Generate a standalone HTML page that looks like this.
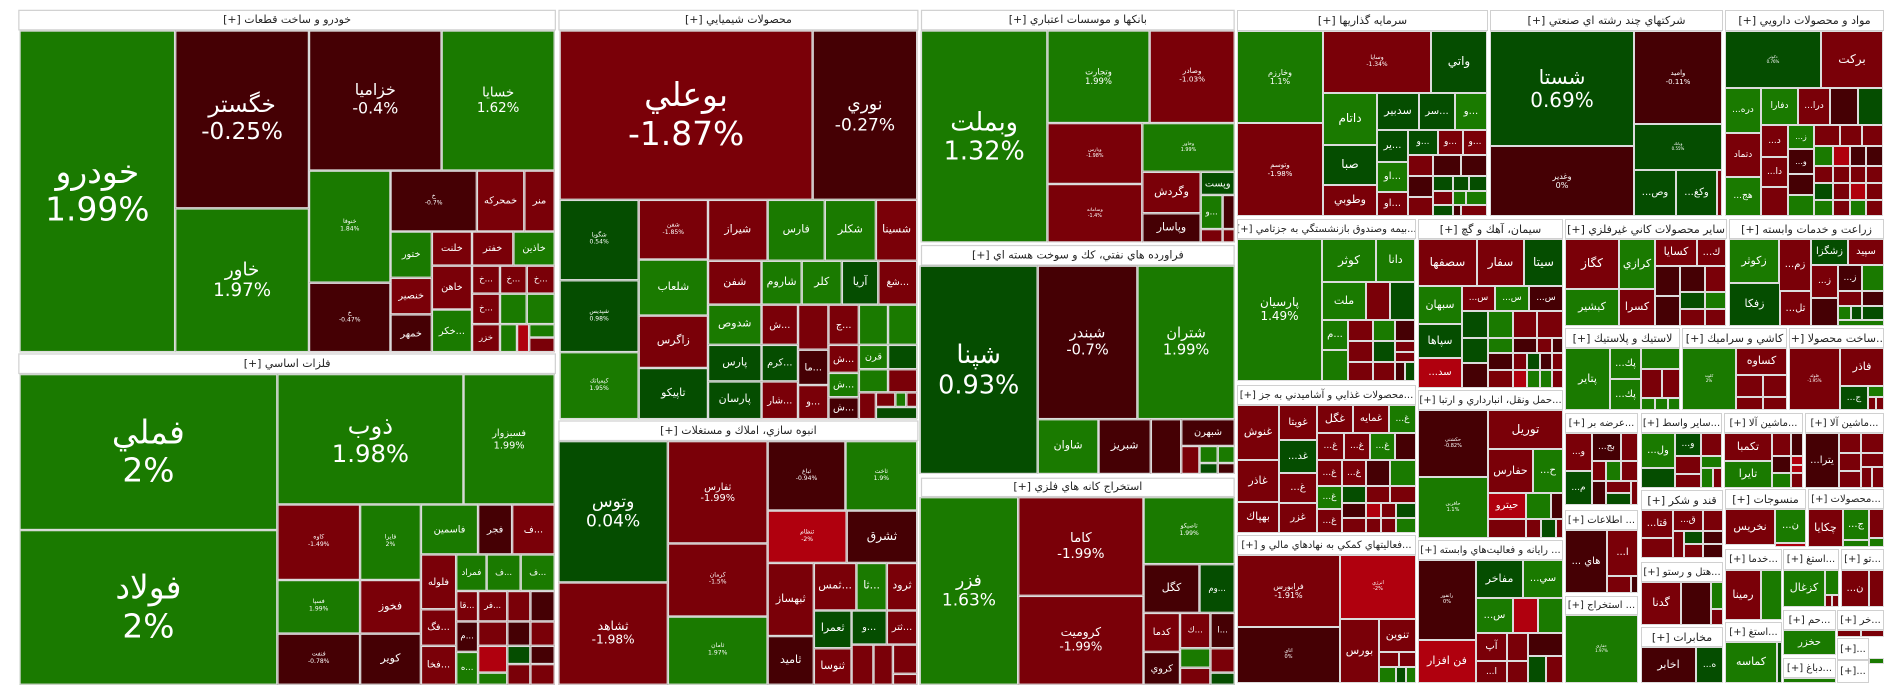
<!DOCTYPE html>
<html><head><meta charset="utf-8">
<style>
html,body{margin:0;padding:0;background:#fff;width:1904px;height:698px;overflow:hidden;position:relative}
.c{position:absolute;box-sizing:border-box;border:1px solid #dcdcdc;color:#fff;display:flex;align-items:center;justify-content:center;text-align:center;overflow:hidden;white-space:nowrap;line-height:1.15;font-family:"DejaVu Sans",sans-serif;font-size:10px}
.h{position:absolute;box-sizing:border-box;background:#fff;border:1px solid #d0d0d0;color:#222;font-family:"DejaVu Sans",sans-serif;font-size:11px;text-align:center;white-space:nowrap;overflow:hidden;display:flex;align-items:center;justify-content:center;direction:rtl}
#L .h{font-size:9px}
.G{background:#1a7a00}.D{background:#054d00}.R{background:#7a0008}.X{background:#450004}.B{background:#b0000e}
#L{position:absolute;left:0;top:0;width:1016px;height:573px;transform:scale(1.2165,1.2185);transform-origin:0 0}
</style></head><body>
<div id="L">
<div class="h" style="left:15px;top:8px;width:442px;height:17px">خودرو و ساخت قطعات [+]</div>
<div class="c G" style="left:16px;top:25px;width:128px;height:264px;font-size:27px">خودرو<br>1.99%</div>
<div class="c X" style="left:144px;top:25px;width:110px;height:146px;font-size:19px">خگستر<br>-0.25%</div>
<div class="c G" style="left:144px;top:171px;width:110px;height:118px;font-size:15px">خاور<br>1.97%</div>
<div class="c X" style="left:254px;top:25px;width:109px;height:115px;font-size:13px">خزاميا<br>-0.4%</div>
<div class="c G" style="left:363px;top:25px;width:93px;height:115px;font-size:11px">خسايا<br>1.62%</div>
<div class="c G" style="left:254px;top:140px;width:67px;height:92px;font-size:5px">خنوفا<br>1.84%</div>
<div class="c X" style="left:254px;top:232px;width:67px;height:57px;font-size:5px">خ<br>-0.47%</div>
<div class="c X" style="left:321px;top:140px;width:71px;height:50px;font-size:5px">خ<br>-0.7%</div>
<div class="c R" style="left:392px;top:140px;width:39px;height:50px;font-size:8px">خمحرکه</div>
<div class="c R" style="left:431px;top:140px;width:25px;height:50px;font-size:8px">منر</div>
<div class="c G" style="left:321px;top:190px;width:34px;height:38px;font-size:8px">ختور</div>
<div class="c R" style="left:355px;top:190px;width:33px;height:28px;font-size:8px">خلنت</div>
<div class="c R" style="left:388px;top:190px;width:34px;height:28px;font-size:8px">خفتر</div>
<div class="c G" style="left:422px;top:190px;width:34px;height:28px;font-size:8px">خاذين</div>
<div class="c R" style="left:321px;top:228px;width:34px;height:30px;font-size:8px">خنصير</div>
<div class="c X" style="left:321px;top:258px;width:34px;height:31px;font-size:8px">خمهر</div>
<div class="c R" style="left:355px;top:218px;width:33px;height:36px;font-size:8px">خاهن</div>
<div class="c G" style="left:355px;top:254px;width:33px;height:35px;font-size:8px">خكر...</div>
<div class="c R" style="left:388px;top:218px;width:23px;height:23px;font-size:7px">خ...</div>
<div class="c R" style="left:411px;top:218px;width:22px;height:23px;font-size:7px">خ...</div>
<div class="c R" style="left:433px;top:218px;width:23px;height:23px;font-size:7px">خ...</div>
<div class="c R" style="left:388px;top:241px;width:23px;height:25px;font-size:7px">خ...</div>
<div class="c G" style="left:411px;top:241px;width:22px;height:25px"></div>
<div class="c G" style="left:433px;top:241px;width:23px;height:25px"></div>
<div class="c R" style="left:388px;top:266px;width:23px;height:23px;font-size:7px">خزر</div>
<div class="c G" style="left:411px;top:266px;width:14px;height:23px"></div>
<div class="c B" style="left:425px;top:266px;width:10px;height:23px"></div>
<div class="c G" style="left:435px;top:266px;width:21px;height:11px"></div>
<div class="c R" style="left:435px;top:277px;width:21px;height:12px"></div>

<div class="h" style="left:15px;top:290px;width:442px;height:17px">فلزات اساسي [+]</div>
<div class="c G" style="left:16px;top:307px;width:212px;height:128px;font-size:27px">فملي<br>2%</div>
<div class="c G" style="left:16px;top:435px;width:212px;height:127px;font-size:27px">فولاد<br>2%</div>
<div class="c G" style="left:228px;top:307px;width:153px;height:107px;font-size:20px">ذوب<br>1.98%</div>
<div class="c G" style="left:381px;top:307px;width:75px;height:107px;font-size:8px">فسبزوار<br>1.99%</div>
<div class="c R" style="left:228px;top:414px;width:68px;height:62px;font-size:5px">كاوه<br>-1.49%</div>
<div class="c G" style="left:228px;top:476px;width:68px;height:44px;font-size:5px">فسپا<br>1.99%</div>
<div class="c X" style="left:228px;top:520px;width:68px;height:42px;font-size:5px">فنفت<br>-0.78%</div>
<div class="c G" style="left:296px;top:414px;width:50px;height:62px;font-size:5px">فايرا<br>2%</div>
<div class="c R" style="left:296px;top:476px;width:50px;height:44px;font-size:9px">فخوز</div>
<div class="c X" style="left:296px;top:520px;width:50px;height:42px;font-size:9px">كوير</div>
<div class="c G" style="left:346px;top:414px;width:47px;height:41px;font-size:8px">فاسمين</div>
<div class="c X" style="left:393px;top:414px;width:28px;height:41px;font-size:8px">فجر</div>
<div class="c R" style="left:421px;top:414px;width:35px;height:41px;font-size:8px">ف...</div>
<div class="c R" style="left:346px;top:455px;width:29px;height:45px;font-size:8px">فلوله</div>
<div class="c R" style="left:346px;top:500px;width:29px;height:30px;font-size:8px">فگ...</div>
<div class="c R" style="left:346px;top:530px;width:29px;height:32px;font-size:8px">فخا...</div>
<div class="c G" style="left:375px;top:455px;width:25px;height:30px;font-size:7px">فمراد</div>
<div class="c G" style="left:400px;top:455px;width:28px;height:30px;font-size:7px">ف...</div>
<div class="c G" style="left:428px;top:455px;width:28px;height:30px;font-size:7px">ف...</div>
<div class="c R" style="left:375px;top:485px;width:18px;height:25px;font-size:7px">قا...</div>
<div class="c R" style="left:393px;top:485px;width:24px;height:25px;font-size:7px">فر...</div>
<div class="c R" style="left:417px;top:485px;width:19px;height:25px"></div>
<div class="c X" style="left:436px;top:485px;width:20px;height:25px"></div>
<div class="c X" style="left:375px;top:510px;width:18px;height:25px;font-size:7px">م...</div>
<div class="c G" style="left:375px;top:535px;width:18px;height:27px;font-size:7px">ه...</div>
<div class="c R" style="left:393px;top:510px;width:24px;height:20px"></div>
<div class="c B" style="left:393px;top:530px;width:24px;height:22px"></div>
<div class="c G" style="left:393px;top:552px;width:24px;height:10px"></div>
<div class="c X" style="left:417px;top:510px;width:19px;height:20px"></div>
<div class="c D" style="left:417px;top:530px;width:19px;height:15px"></div>
<div class="c R" style="left:436px;top:510px;width:20px;height:20px"></div>
<div class="c X" style="left:436px;top:530px;width:20px;height:15px"></div>
<div class="c R" style="left:417px;top:545px;width:19px;height:17px"></div>
<div class="c R" style="left:436px;top:545px;width:20px;height:17px"></div>

<div class="h" style="left:459px;top:8px;width:296px;height:17px">محصولات شيميايي [+]</div>
<div class="c R" style="left:460px;top:25px;width:208px;height:139px;font-size:27px">بوعلي<br>-1.87%</div>
<div class="c X" style="left:668px;top:25px;width:86px;height:139px;font-size:14px">نوري<br>-0.27%</div>
<div class="c D" style="left:460px;top:164px;width:65px;height:66px;font-size:5px">شگويا<br>0.54%</div>
<div class="c D" style="left:460px;top:230px;width:65px;height:59px;font-size:5px">شپديس<br>0.98%</div>
<div class="c G" style="left:460px;top:289px;width:65px;height:55px;font-size:5px">كيمياتك<br>1.95%</div>
<div class="c R" style="left:525px;top:164px;width:57px;height:49px;font-size:5px">شفن<br>-1.85%</div>
<div class="c G" style="left:525px;top:213px;width:57px;height:46px;font-size:9px">شلعاب</div>
<div class="c R" style="left:525px;top:259px;width:57px;height:43px;font-size:9px">زاگرس</div>
<div class="c D" style="left:525px;top:302px;width:57px;height:42px;font-size:9px">تاپيکو</div>
<div class="c R" style="left:582px;top:164px;width:49px;height:50px;font-size:9px">شيراز</div>
<div class="c G" style="left:631px;top:164px;width:47px;height:50px;font-size:9px">فارس</div>
<div class="c G" style="left:678px;top:164px;width:42px;height:50px;font-size:9px">شكلر</div>
<div class="c R" style="left:720px;top:164px;width:34px;height:50px;font-size:9px">شسينا</div>
<div class="c R" style="left:582px;top:214px;width:44px;height:36px;font-size:9px">شفن</div>
<div class="c G" style="left:626px;top:214px;width:33px;height:36px;font-size:9px">شاروم</div>
<div class="c G" style="left:659px;top:214px;width:33px;height:36px;font-size:9px">كلر</div>
<div class="c D" style="left:692px;top:214px;width:30px;height:36px;font-size:9px">آريا</div>
<div class="c R" style="left:722px;top:214px;width:32px;height:36px;font-size:8px">شغ...</div>
<div class="c G" style="left:582px;top:250px;width:44px;height:33px;font-size:9px">شدوص</div>
<div class="c D" style="left:582px;top:283px;width:44px;height:30px;font-size:9px">پارس</div>
<div class="c D" style="left:582px;top:313px;width:44px;height:31px;font-size:9px">پارسان</div>
<div class="c R" style="left:626px;top:250px;width:30px;height:33px;font-size:8px">ش...</div>
<div class="c D" style="left:626px;top:283px;width:30px;height:30px;font-size:8px">كرم...</div>
<div class="c R" style="left:626px;top:313px;width:30px;height:31px;font-size:8px">شار...</div>
<div class="c R" style="left:656px;top:250px;width:25px;height:37px"></div>
<div class="c X" style="left:656px;top:287px;width:25px;height:29px;font-size:8px">ما...</div>
<div class="c R" style="left:656px;top:316px;width:25px;height:28px;font-size:8px">و...</div>
<div class="c R" style="left:681px;top:250px;width:25px;height:33px;font-size:8px">ج...</div>
<div class="c R" style="left:681px;top:283px;width:25px;height:23px;font-size:8px">ش...</div>
<div class="c G" style="left:681px;top:306px;width:25px;height:20px;font-size:8px">ش...</div>
<div class="c X" style="left:681px;top:326px;width:25px;height:18px;font-size:8px">ش...</div>
<div class="c G" style="left:706px;top:250px;width:24px;height:33px"></div>
<div class="c G" style="left:730px;top:250px;width:24px;height:33px"></div>
<div class="c G" style="left:706px;top:283px;width:24px;height:20px;font-size:8px">قرن</div>
<div class="c D" style="left:730px;top:283px;width:24px;height:20px"></div>
<div class="c G" style="left:706px;top:303px;width:24px;height:19px"></div>
<div class="c R" style="left:730px;top:303px;width:24px;height:19px"></div>
<div class="c R" style="left:706px;top:322px;width:14px;height:22px"></div>
<div class="c R" style="left:720px;top:322px;width:16px;height:12px"></div>
<div class="c G" style="left:736px;top:322px;width:9px;height:12px"></div>
<div class="c R" style="left:745px;top:322px;width:9px;height:12px"></div>
<div class="c D" style="left:720px;top:334px;width:34px;height:10px"></div>

<div class="h" style="left:459px;top:345px;width:296px;height:17px">انبوه سازي، املاك و مستغلات [+]</div>
<div class="c D" style="left:459px;top:362px;width:90px;height:116px;font-size:14px">وتوس<br>0.04%</div>
<div class="c R" style="left:459px;top:478px;width:90px;height:84px;font-size:10px">ثشاهد<br>-1.98%</div>
<div class="c R" style="left:549px;top:362px;width:82px;height:84px;font-size:8px">ثفارس<br>-1.99%</div>
<div class="c R" style="left:549px;top:446px;width:82px;height:60px;font-size:5px">كرمان<br>-1.5%</div>
<div class="c G" style="left:549px;top:506px;width:82px;height:56px;font-size:5px">ثامان<br>1.97%</div>
<div class="c X" style="left:631px;top:362px;width:64px;height:57px;font-size:5px">ثباغ<br>-0.94%</div>
<div class="c G" style="left:695px;top:362px;width:59px;height:57px;font-size:5px">ثاخت<br>1.9%</div>
<div class="c B" style="left:631px;top:419px;width:65px;height:43px;font-size:5px">ثنظام<br>-2%</div>
<div class="c X" style="left:696px;top:419px;width:58px;height:43px;font-size:10px">ثشرق</div>
<div class="c R" style="left:631px;top:462px;width:38px;height:60px;font-size:9px">ثبهساز</div>
<div class="c X" style="left:631px;top:522px;width:38px;height:40px;font-size:9px">ثاميد</div>
<div class="c R" style="left:669px;top:462px;width:35px;height:39px;font-size:9px">ثمس...</div>
<div class="c G" style="left:704px;top:462px;width:25px;height:39px;font-size:9px">ثا...</div>
<div class="c R" style="left:729px;top:462px;width:25px;height:39px;font-size:9px">ثرود</div>
<div class="c D" style="left:669px;top:501px;width:31px;height:31px;font-size:9px">ثعمرا</div>
<div class="c D" style="left:700px;top:501px;width:29px;height:28px;font-size:8px">و...</div>
<div class="c R" style="left:729px;top:501px;width:25px;height:28px;font-size:8px">ثتر...</div>
<div class="c R" style="left:669px;top:532px;width:31px;height:30px;font-size:9px">ثنوسا</div>
<div class="c R" style="left:700px;top:529px;width:18px;height:33px"></div>
<div class="c R" style="left:718px;top:529px;width:16px;height:33px"></div>
<div class="c R" style="left:734px;top:529px;width:20px;height:24px"></div>
<div class="c R" style="left:734px;top:553px;width:20px;height:9px"></div>

<div class="h" style="left:757px;top:8px;width:258px;height:17px">بانكها و موسسات اعتباري [+]</div>
<div class="c G" style="left:757px;top:25px;width:104px;height:174px;font-size:21px">وبملت<br>1.32%</div>
<div class="c G" style="left:861px;top:25px;width:84px;height:76px;font-size:7px">وتجارت<br>1.99%</div>
<div class="c R" style="left:945px;top:25px;width:70px;height:76px;font-size:6px">وصادر<br>-1.03%</div>
<div class="c R" style="left:861px;top:101px;width:78px;height:50px;font-size:4px">وپارس<br>-1.98%</div>
<div class="c R" style="left:861px;top:151px;width:78px;height:48px;font-size:4px">وسامانه<br>-1.4%</div>
<div class="c G" style="left:939px;top:101px;width:76px;height:40px;font-size:4px">وخاور<br>1.99%</div>
<div class="c R" style="left:939px;top:141px;width:48px;height:34px;font-size:9px">وگردش</div>
<div class="c X" style="left:939px;top:175px;width:48px;height:24px;font-size:9px">وپاسار</div>
<div class="c D" style="left:987px;top:141px;width:28px;height:19px;font-size:8px">وپست</div>
<div class="c G" style="left:987px;top:160px;width:18px;height:28px;font-size:7px">و...</div>
<div class="c X" style="left:1005px;top:160px;width:10px;height:28px"></div>
<div class="c R" style="left:987px;top:188px;width:18px;height:11px"></div>
<div class="c R" style="left:1005px;top:188px;width:10px;height:11px"></div>

<div class="h" style="left:757px;top:201px;width:258px;height:17px">فراورده هاي نفتي، كك و سوخت هسته اي [+]</div>
<div class="c D" style="left:756px;top:218px;width:97px;height:171px;font-size:21px">شپنا<br>0.93%</div>
<div class="c X" style="left:853px;top:218px;width:82px;height:126px;font-size:12px">شبندر<br>-0.7%</div>
<div class="c G" style="left:935px;top:218px;width:80px;height:126px;font-size:12px">شتران<br>1.99%</div>
<div class="c G" style="left:853px;top:344px;width:50px;height:45px;font-size:9px">شاوان</div>
<div class="c X" style="left:903px;top:344px;width:43px;height:45px;font-size:9px">شبريز</div>
<div class="c X" style="left:946px;top:344px;width:25px;height:45px"></div>
<div class="c X" style="left:971px;top:344px;width:44px;height:22px;font-size:8px">شبهرن</div>
<div class="c R" style="left:971px;top:366px;width:15px;height:23px"></div>
<div class="c G" style="left:986px;top:366px;width:15px;height:14px"></div>
<div class="c G" style="left:1001px;top:366px;width:14px;height:14px"></div>
<div class="c D" style="left:986px;top:380px;width:15px;height:9px"></div>
<div class="c X" style="left:1001px;top:380px;width:14px;height:9px"></div>

<div class="h" style="left:757px;top:392px;width:258px;height:16px">استخراج كانه هاي فلزي [+]</div>
<div class="c G" style="left:756px;top:408px;width:81px;height:154px;font-size:14px">فزر<br>1.63%</div>
<div class="c R" style="left:837px;top:408px;width:103px;height:81px;font-size:11px">كاما<br>-1.99%</div>
<div class="c R" style="left:837px;top:489px;width:103px;height:73px;font-size:10px">كروميت<br>-1.99%</div>
<div class="c G" style="left:940px;top:408px;width:75px;height:55px;font-size:5px">تاصيكو<br>1.99%</div>
<div class="c X" style="left:940px;top:463px;width:46px;height:40px;font-size:9px">كگل</div>
<div class="c D" style="left:986px;top:463px;width:29px;height:40px;font-size:7px">وم...</div>
<div class="c R" style="left:940px;top:503px;width:30px;height:32px;font-size:8px">كدما</div>
<div class="c X" style="left:940px;top:535px;width:30px;height:27px;font-size:8px">كروي</div>
<div class="c R" style="left:970px;top:503px;width:25px;height:29px;font-size:7px">ك...</div>
<div class="c X" style="left:995px;top:503px;width:20px;height:29px;font-size:7px">ا...</div>
<div class="c G" style="left:970px;top:532px;width:25px;height:16px"></div>
<div class="c R" style="left:970px;top:548px;width:25px;height:14px"></div>
<div class="c R" style="left:995px;top:532px;width:20px;height:20px"></div>
<div class="c D" style="left:995px;top:552px;width:20px;height:10px"></div>
</div>

<!-- right layer real coords -->
<div class="h" style="left:1237px;top:10px;width:251px;height:21px">سرمايه گذاريها [+]</div>
<div class="c G" style="left:1237px;top:31px;width:86px;height:92px;font-size:8px">وخارزم<br>1.1%</div>
<div class="c R" style="left:1237px;top:123px;width:86px;height:93px;font-size:7px">وتوسم<br>-1.98%</div>
<div class="c R" style="left:1323px;top:31px;width:108px;height:62px;font-size:6px">وسايا<br>-1.34%</div>
<div class="c D" style="left:1431px;top:31px;width:56px;height:62px;font-size:12px">واتي</div>
<div class="c G" style="left:1323px;top:93px;width:54px;height:52px;font-size:12px">داتام</div>
<div class="c D" style="left:1323px;top:145px;width:54px;height:40px;font-size:12px">صبا</div>
<div class="c R" style="left:1323px;top:185px;width:54px;height:31px;font-size:11px">وطوبي</div>
<div class="c D" style="left:1377px;top:93px;width:42px;height:37px;font-size:11px">سدبير</div>
<div class="c D" style="left:1419px;top:93px;width:36px;height:37px;font-size:10px">سر...</div>
<div class="c G" style="left:1455px;top:93px;width:32px;height:37px;font-size:10px">و...</div>
<div class="c D" style="left:1377px;top:130px;width:31px;height:32px;font-size:10px">ير...</div>
<div class="c G" style="left:1377px;top:162px;width:31px;height:30px;font-size:10px">او...</div>
<div class="c R" style="left:1377px;top:192px;width:31px;height:24px;font-size:10px">او...</div>
<div class="c D" style="left:1408px;top:130px;width:30px;height:25px;font-size:9px">و...</div>
<div class="c R" style="left:1438px;top:130px;width:25px;height:25px;font-size:9px">و...</div>
<div class="c R" style="left:1463px;top:130px;width:24px;height:25px;font-size:9px">و...</div>
<div class="c R" style="left:1408px;top:155px;width:25px;height:21px"></div>
<div class="c X" style="left:1433px;top:155px;width:28px;height:21px"></div>
<div class="c X" style="left:1461px;top:155px;width:26px;height:21px"></div>
<div class="c X" style="left:1408px;top:176px;width:25px;height:21px"></div>
<div class="c D" style="left:1433px;top:176px;width:20px;height:15px"></div>
<div class="c D" style="left:1453px;top:176px;width:16px;height:15px"></div>
<div class="c D" style="left:1469px;top:176px;width:18px;height:15px"></div>
<div class="c R" style="left:1408px;top:197px;width:25px;height:19px"></div>
<div class="c R" style="left:1433px;top:191px;width:20px;height:14px"></div>
<div class="c G" style="left:1453px;top:191px;width:13px;height:14px"></div>
<div class="c G" style="left:1466px;top:191px;width:21px;height:14px"></div>
<div class="c D" style="left:1433px;top:205px;width:20px;height:11px"></div>
<div class="c X" style="left:1453px;top:205px;width:8px;height:11px"></div>
<div class="c R" style="left:1461px;top:205px;width:26px;height:11px"></div>

<div class="h" style="left:1490px;top:10px;width:233px;height:21px">شرکتهاي چند رشته اي صنعتي [+]</div>
<div class="c D" style="left:1490px;top:31px;width:144px;height:115px;font-size:20px">شستا<br>0.69%</div>
<div class="c X" style="left:1490px;top:146px;width:144px;height:70px;font-size:8px">وغدير<br>0%</div>
<div class="c X" style="left:1634px;top:31px;width:88px;height:93px;font-size:7px">واميد<br>-0.11%</div>
<div class="c D" style="left:1634px;top:124px;width:88px;height:46px;font-size:4px">وبانك<br>0.55%</div>
<div class="c D" style="left:1634px;top:170px;width:42px;height:46px;font-size:10px">...وص</div>
<div class="c D" style="left:1676px;top:170px;width:41px;height:46px;font-size:10px">...وكغ</div>
<div class="c R" style="left:1717px;top:170px;width:5px;height:46px"></div>

<div class="h" style="left:1725px;top:10px;width:159px;height:21px">مواد و محصولات دارويي [+]</div>
<div class="c D" style="left:1725px;top:31px;width:96px;height:57px;font-size:4px">دکوثر<br>0.76%</div>
<div class="c R" style="left:1821px;top:31px;width:62px;height:57px;font-size:12px">بركت</div>
<div class="c G" style="left:1725px;top:88px;width:36px;height:45px;font-size:9px">...دره</div>
<div class="c G" style="left:1761px;top:88px;width:37px;height:37px;font-size:9px">دفارا</div>
<div class="c R" style="left:1798px;top:88px;width:32px;height:37px;font-size:9px">...درا</div>
<div class="c X" style="left:1830px;top:88px;width:28px;height:37px"></div>
<div class="c D" style="left:1858px;top:88px;width:25px;height:37px"></div>
<div class="c R" style="left:1725px;top:133px;width:36px;height:44px;font-size:9px">دتماد</div>
<div class="c G" style="left:1725px;top:177px;width:36px;height:39px;font-size:9px">...هج</div>
<div class="c R" style="left:1761px;top:125px;width:27px;height:32px;font-size:9px">...د</div>
<div class="c R" style="left:1761px;top:157px;width:27px;height:30px;font-size:9px">...دا</div>
<div class="c R" style="left:1761px;top:187px;width:27px;height:29px"></div>
<div class="c G" style="left:1788px;top:125px;width:26px;height:24px;font-size:8px">...ز</div>
<div class="c X" style="left:1788px;top:149px;width:26px;height:25px;font-size:8px">...و</div>
<div class="c X" style="left:1788px;top:174px;width:26px;height:21px"></div>
<div class="c G" style="left:1788px;top:195px;width:26px;height:21px"></div>
<div class="c R" style="left:1814px;top:125px;width:26px;height:21px"></div>
<div class="c R" style="left:1840px;top:125px;width:22px;height:21px"></div>
<div class="c R" style="left:1862px;top:125px;width:21px;height:21px"></div>
<div class="c G" style="left:1814px;top:146px;width:19px;height:20px"></div>
<div class="c B" style="left:1833px;top:146px;width:17px;height:20px"></div>
<div class="c X" style="left:1850px;top:146px;width:16px;height:20px"></div>
<div class="c X" style="left:1866px;top:146px;width:17px;height:20px"></div>
<div class="c R" style="left:1814px;top:166px;width:19px;height:17px"></div>
<div class="c R" style="left:1833px;top:166px;width:17px;height:17px"></div>
<div class="c R" style="left:1850px;top:166px;width:16px;height:17px"></div>
<div class="c R" style="left:1866px;top:166px;width:17px;height:17px"></div>
<div class="c D" style="left:1814px;top:183px;width:19px;height:17px"></div>
<div class="c R" style="left:1833px;top:183px;width:17px;height:17px"></div>
<div class="c B" style="left:1850px;top:183px;width:16px;height:17px"></div>
<div class="c R" style="left:1866px;top:183px;width:17px;height:17px"></div>
<div class="c G" style="left:1814px;top:200px;width:19px;height:16px"></div>
<div class="c R" style="left:1833px;top:200px;width:17px;height:16px"></div>
<div class="c G" style="left:1850px;top:200px;width:16px;height:16px"></div>
<div class="c R" style="left:1866px;top:200px;width:17px;height:16px"></div>

<div class="h" style="left:1237px;top:219px;width:179px;height:20px;font-size:10px">...بيمه وصندوق بازنشستگي به جزتامي [+]</div>
<div class="c G" style="left:1237px;top:239px;width:85px;height:142px;font-size:12px">پارسيان<br>1.49%</div>
<div class="c G" style="left:1322px;top:239px;width:54px;height:43px;font-size:12px">كوثر</div>
<div class="c G" style="left:1376px;top:239px;width:39px;height:43px;font-size:11px">دانا</div>
<div class="c G" style="left:1322px;top:282px;width:44px;height:38px;font-size:11px">ملت</div>
<div class="c R" style="left:1366px;top:282px;width:24px;height:38px"></div>
<div class="c D" style="left:1390px;top:282px;width:25px;height:38px"></div>
<div class="c G" style="left:1322px;top:320px;width:26px;height:30px;font-size:10px">م...</div>
<div class="c G" style="left:1322px;top:350px;width:26px;height:31px"></div>
<div class="c R" style="left:1348px;top:320px;width:25px;height:21px"></div>
<div class="c G" style="left:1373px;top:320px;width:22px;height:21px"></div>
<div class="c X" style="left:1395px;top:320px;width:20px;height:21px"></div>
<div class="c R" style="left:1348px;top:341px;width:25px;height:21px"></div>
<div class="c D" style="left:1373px;top:341px;width:22px;height:21px"></div>
<div class="c R" style="left:1395px;top:341px;width:20px;height:11px"></div>
<div class="c R" style="left:1395px;top:352px;width:20px;height:10px"></div>
<div class="c R" style="left:1348px;top:362px;width:25px;height:19px"></div>
<div class="c R" style="left:1373px;top:362px;width:22px;height:19px"></div>
<div class="c X" style="left:1395px;top:362px;width:10px;height:19px"></div>
<div class="c D" style="left:1405px;top:362px;width:10px;height:19px"></div>

<div class="h" style="left:1418px;top:219px;width:145px;height:20px">سيمان، آهك و گچ [+]</div>
<div class="c R" style="left:1418px;top:239px;width:59px;height:47px;font-size:12px">سصفها</div>
<div class="c R" style="left:1477px;top:239px;width:47px;height:47px;font-size:12px">سفار</div>
<div class="c D" style="left:1524px;top:239px;width:39px;height:47px;font-size:12px">سيتا</div>
<div class="c G" style="left:1418px;top:286px;width:44px;height:38px;font-size:11px">سبهان</div>
<div class="c D" style="left:1418px;top:324px;width:44px;height:34px;font-size:11px">سپاها</div>
<div class="c B" style="left:1418px;top:358px;width:44px;height:30px;font-size:10px">...سد</div>
<div class="c R" style="left:1462px;top:286px;width:33px;height:25px;font-size:9px">...س</div>
<div class="c G" style="left:1495px;top:286px;width:34px;height:25px;font-size:9px">...س</div>
<div class="c X" style="left:1529px;top:286px;width:34px;height:25px;font-size:9px">...س</div>
<div class="c D" style="left:1462px;top:311px;width:26px;height:27px"></div>
<div class="c G" style="left:1488px;top:311px;width:25px;height:27px"></div>
<div class="c R" style="left:1513px;top:311px;width:24px;height:27px"></div>
<div class="c R" style="left:1537px;top:311px;width:26px;height:27px"></div>
<div class="c D" style="left:1462px;top:338px;width:26px;height:25px"></div>
<div class="c G" style="left:1488px;top:338px;width:25px;height:15px"></div>
<div class="c X" style="left:1513px;top:338px;width:24px;height:15px"></div>
<div class="c R" style="left:1537px;top:338px;width:15px;height:15px"></div>
<div class="c X" style="left:1552px;top:338px;width:11px;height:15px"></div>
<div class="c X" style="left:1488px;top:353px;width:25px;height:17px"></div>
<div class="c R" style="left:1513px;top:353px;width:14px;height:17px"></div>
<div class="c D" style="left:1527px;top:353px;width:13px;height:17px"></div>
<div class="c X" style="left:1540px;top:353px;width:12px;height:17px"></div>
<div class="c R" style="left:1552px;top:353px;width:11px;height:17px"></div>
<div class="c X" style="left:1462px;top:363px;width:26px;height:25px"></div>
<div class="c R" style="left:1488px;top:370px;width:25px;height:18px"></div>
<div class="c B" style="left:1513px;top:370px;width:14px;height:18px"></div>
<div class="c G" style="left:1527px;top:370px;width:13px;height:18px"></div>
<div class="c G" style="left:1540px;top:370px;width:12px;height:18px"></div>
<div class="c R" style="left:1552px;top:370px;width:11px;height:18px"></div>

<div class="h" style="left:1565px;top:219px;width:162px;height:20px">ساير محصولات كاني غيرفلزي [+]</div>
<div class="c R" style="left:1565px;top:239px;width:54px;height:50px;font-size:12px">كگاز</div>
<div class="c G" style="left:1619px;top:239px;width:36px;height:50px;font-size:11px">كرازي</div>
<div class="c R" style="left:1655px;top:239px;width:42px;height:27px;font-size:11px">كسايا</div>
<div class="c R" style="left:1697px;top:239px;width:29px;height:27px;font-size:10px">...ك</div>
<div class="c G" style="left:1565px;top:289px;width:54px;height:37px;font-size:11px">كبشير</div>
<div class="c R" style="left:1619px;top:289px;width:36px;height:37px;font-size:11px">كسرا</div>
<div class="c X" style="left:1655px;top:266px;width:25px;height:30px"></div>
<div class="c X" style="left:1680px;top:266px;width:25px;height:26px"></div>
<div class="c R" style="left:1705px;top:266px;width:21px;height:26px"></div>
<div class="c X" style="left:1655px;top:296px;width:25px;height:30px"></div>
<div class="c D" style="left:1680px;top:292px;width:25px;height:17px"></div>
<div class="c G" style="left:1705px;top:292px;width:21px;height:17px"></div>
<div class="c R" style="left:1680px;top:309px;width:25px;height:17px"></div>
<div class="c R" style="left:1705px;top:309px;width:21px;height:17px"></div>

<div class="h" style="left:1729px;top:219px;width:155px;height:20px">زراعت و خدمات وابسته [+]</div>
<div class="c G" style="left:1729px;top:239px;width:50px;height:44px;font-size:11px">زكوثر</div>
<div class="c R" style="left:1779px;top:239px;width:32px;height:52px;font-size:10px">...زم</div>
<div class="c D" style="left:1811px;top:239px;width:37px;height:26px;font-size:10px">زشگزا</div>
<div class="c R" style="left:1848px;top:239px;width:36px;height:26px;font-size:10px">سپيد</div>
<div class="c R" style="left:1811px;top:265px;width:27px;height:33px;font-size:9px">...ز</div>
<div class="c X" style="left:1838px;top:265px;width:24px;height:26px;font-size:9px">...ز</div>
<div class="c G" style="left:1862px;top:265px;width:22px;height:26px"></div>
<div class="c D" style="left:1729px;top:283px;width:51px;height:43px;font-size:11px">زفكا</div>
<div class="c R" style="left:1780px;top:291px;width:31px;height:35px;font-size:10px">...تل</div>
<div class="c X" style="left:1811px;top:298px;width:27px;height:28px"></div>
<div class="c R" style="left:1838px;top:291px;width:24px;height:15px"></div>
<div class="c X" style="left:1862px;top:291px;width:22px;height:15px"></div>
<div class="c G" style="left:1838px;top:306px;width:13px;height:14px"></div>
<div class="c D" style="left:1851px;top:306px;width:11px;height:14px"></div>
<div class="c D" style="left:1862px;top:306px;width:22px;height:14px"></div>
<div class="c G" style="left:1838px;top:320px;width:46px;height:6px"></div>

<div class="h" style="left:1565px;top:328px;width:115px;height:20px">لاستيك و پلاستيك [+]</div>
<div class="c G" style="left:1565px;top:348px;width:45px;height:62px;font-size:11px">پتاير</div>
<div class="c G" style="left:1610px;top:348px;width:31px;height:31px;font-size:10px">...پك</div>
<div class="c G" style="left:1610px;top:379px;width:31px;height:31px;font-size:10px">...پك</div>
<div class="c G" style="left:1641px;top:348px;width:39px;height:21px"></div>
<div class="c R" style="left:1641px;top:369px;width:21px;height:29px"></div>
<div class="c R" style="left:1662px;top:369px;width:18px;height:29px"></div>
<div class="c G" style="left:1641px;top:398px;width:14px;height:12px"></div>
<div class="c G" style="left:1655px;top:398px;width:13px;height:12px"></div>
<div class="c G" style="left:1668px;top:398px;width:12px;height:12px"></div>

<div class="h" style="left:1682px;top:328px;width:105px;height:20px">كاشي و سراميك [+]</div>
<div class="c G" style="left:1682px;top:348px;width:54px;height:62px;font-size:4px">كلوند<br>2%</div>
<div class="c R" style="left:1736px;top:348px;width:51px;height:27px;font-size:11px">كساوه</div>
<div class="c R" style="left:1736px;top:375px;width:27px;height:22px"></div>
<div class="c R" style="left:1763px;top:375px;width:24px;height:22px"></div>
<div class="c R" style="left:1736px;top:397px;width:27px;height:13px"></div>
<div class="c R" style="left:1763px;top:397px;width:24px;height:13px"></div>

<div class="h" style="left:1789px;top:328px;width:95px;height:20px">...ساخت محصولا [+]</div>
<div class="c R" style="left:1789px;top:348px;width:51px;height:62px;font-size:4px">فلوله<br>-1.95%</div>
<div class="c R" style="left:1840px;top:348px;width:44px;height:38px;font-size:11px">فاذر</div>
<div class="c D" style="left:1840px;top:386px;width:28px;height:24px;font-size:9px">...ج</div>
<div class="c G" style="left:1868px;top:386px;width:16px;height:11px"></div>
<div class="c R" style="left:1868px;top:397px;width:8px;height:13px"></div>
<div class="c R" style="left:1876px;top:397px;width:8px;height:13px"></div>

<div class="h" style="left:1565px;top:413px;width:73px;height:20px;font-size:10px">...عرضه بر [+]</div>
<div class="c R" style="left:1565px;top:433px;width:27px;height:38px;font-size:9px">...و</div>
<div class="c X" style="left:1592px;top:433px;width:29px;height:28px;font-size:9px">...بج</div>
<div class="c R" style="left:1621px;top:433px;width:17px;height:28px"></div>
<div class="c D" style="left:1565px;top:471px;width:27px;height:34px;font-size:9px">...م</div>
<div class="c R" style="left:1592px;top:461px;width:14px;height:20px"></div>
<div class="c G" style="left:1606px;top:461px;width:15px;height:20px"></div>
<div class="c R" style="left:1621px;top:461px;width:17px;height:20px"></div>
<div class="c X" style="left:1592px;top:481px;width:14px;height:24px"></div>
<div class="c R" style="left:1606px;top:481px;width:25px;height:12px"></div>
<div class="c D" style="left:1606px;top:493px;width:25px;height:12px"></div>
<div class="c R" style="left:1631px;top:481px;width:7px;height:24px"></div>

<div class="h" style="left:1641px;top:413px;width:81px;height:20px;font-size:10px">...ساير واسط [+]</div>
<div class="c G" style="left:1641px;top:433px;width:34px;height:35px;font-size:10px">...ول</div>
<div class="c D" style="left:1675px;top:433px;width:26px;height:23px;font-size:9px">...و</div>
<div class="c R" style="left:1701px;top:433px;width:21px;height:23px"></div>
<div class="c R" style="left:1675px;top:456px;width:26px;height:18px"></div>
<div class="c G" style="left:1701px;top:456px;width:21px;height:12px"></div>
<div class="c D" style="left:1641px;top:468px;width:34px;height:20px"></div>
<div class="c R" style="left:1675px;top:474px;width:26px;height:14px"></div>
<div class="c G" style="left:1701px;top:468px;width:12px;height:20px"></div>
<div class="c R" style="left:1713px;top:468px;width:9px;height:20px"></div>

<div class="h" style="left:1724px;top:413px;width:79px;height:20px;font-size:10px">...ماشين آلا [+]</div>
<div class="c R" style="left:1724px;top:433px;width:48px;height:28px;font-size:11px">تكمبا</div>
<div class="c G" style="left:1724px;top:461px;width:48px;height:27px;font-size:11px">تايرا</div>
<div class="c R" style="left:1772px;top:433px;width:19px;height:23px"></div>
<div class="c X" style="left:1791px;top:433px;width:12px;height:23px"></div>
<div class="c X" style="left:1772px;top:456px;width:19px;height:17px"></div>
<div class="c B" style="left:1791px;top:456px;width:12px;height:9px"></div>
<div class="c B" style="left:1791px;top:465px;width:12px;height:8px"></div>
<div class="c G" style="left:1772px;top:473px;width:19px;height:15px"></div>
<div class="c R" style="left:1791px;top:473px;width:12px;height:15px"></div>

<div class="h" style="left:1805px;top:413px;width:79px;height:20px;font-size:10px">...ماشين آلا [+]</div>
<div class="c X" style="left:1805px;top:433px;width:34px;height:55px;font-size:10px">...يترا</div>
<div class="c R" style="left:1839px;top:433px;width:22px;height:20px"></div>
<div class="c R" style="left:1861px;top:433px;width:23px;height:20px"></div>
<div class="c R" style="left:1839px;top:453px;width:22px;height:18px"></div>
<div class="c R" style="left:1861px;top:453px;width:23px;height:14px"></div>
<div class="c R" style="left:1839px;top:471px;width:22px;height:17px"></div>
<div class="c R" style="left:1861px;top:467px;width:11px;height:21px"></div>
<div class="c R" style="left:1872px;top:467px;width:12px;height:21px"></div>

<div class="h" style="left:1237px;top:385px;width:179px;height:20px;font-size:10px">...محصولات غذايي و آشاميدني به جز [+]</div>
<div class="c R" style="left:1237px;top:405px;width:42px;height:55px;font-size:11px">غنوش</div>
<div class="c R" style="left:1237px;top:460px;width:42px;height:42px;font-size:11px">غاذر</div>
<div class="c R" style="left:1237px;top:502px;width:42px;height:31px;font-size:11px">بهپاك</div>
<div class="c R" style="left:1279px;top:405px;width:38px;height:35px;font-size:10px">غويتا</div>
<div class="c D" style="left:1279px;top:440px;width:38px;height:33px;font-size:10px">...غد</div>
<div class="c R" style="left:1279px;top:473px;width:38px;height:30px;font-size:10px">...غ</div>
<div class="c R" style="left:1279px;top:503px;width:38px;height:30px;font-size:10px">غزر</div>
<div class="c R" style="left:1317px;top:405px;width:36px;height:28px;font-size:11px">غگل</div>
<div class="c R" style="left:1353px;top:405px;width:36px;height:28px;font-size:10px">غمايه</div>
<div class="c G" style="left:1389px;top:405px;width:27px;height:28px;font-size:9px">...غ</div>
<div class="c R" style="left:1317px;top:433px;width:27px;height:27px;font-size:9px">...غ</div>
<div class="c R" style="left:1344px;top:433px;width:26px;height:27px;font-size:9px">...غ</div>
<div class="c G" style="left:1370px;top:433px;width:25px;height:27px;font-size:9px">...غ</div>
<div class="c X" style="left:1395px;top:433px;width:21px;height:27px"></div>
<div class="c R" style="left:1317px;top:460px;width:25px;height:26px;font-size:9px">...غ</div>
<div class="c R" style="left:1342px;top:460px;width:24px;height:26px;font-size:9px">...غ</div>
<div class="c X" style="left:1366px;top:460px;width:24px;height:26px"></div>
<div class="c G" style="left:1390px;top:460px;width:26px;height:26px"></div>
<div class="c G" style="left:1317px;top:486px;width:25px;height:23px;font-size:9px">...غ</div>
<div class="c R" style="left:1317px;top:509px;width:25px;height:24px;font-size:9px">...غ</div>
<div class="c D" style="left:1342px;top:486px;width:24px;height:17px"></div>
<div class="c R" style="left:1366px;top:486px;width:24px;height:17px"></div>
<div class="c R" style="left:1390px;top:486px;width:26px;height:17px"></div>
<div class="c X" style="left:1342px;top:503px;width:24px;height:15px"></div>
<div class="c B" style="left:1366px;top:503px;width:15px;height:15px"></div>
<div class="c R" style="left:1381px;top:503px;width:15px;height:15px"></div>
<div class="c D" style="left:1396px;top:503px;width:20px;height:15px"></div>
<div class="c R" style="left:1342px;top:518px;width:24px;height:15px"></div>
<div class="c R" style="left:1366px;top:518px;width:15px;height:15px"></div>
<div class="c R" style="left:1381px;top:518px;width:15px;height:15px"></div>
<div class="c G" style="left:1396px;top:518px;width:20px;height:15px"></div>

<div class="h" style="left:1237px;top:535px;width:179px;height:20px;font-size:10px">...فعاليتهاي كمكي به نهادهاي مالي و [+]</div>
<div class="c R" style="left:1237px;top:555px;width:103px;height:72px;font-size:8px">فرابورس<br>-1.91%</div>
<div class="c B" style="left:1340px;top:555px;width:76px;height:64px;font-size:5px">انرژي<br>-2%</div>
<div class="c X" style="left:1237px;top:627px;width:103px;height:56px;font-size:5px">اتاي<br>0%</div>
<div class="c R" style="left:1340px;top:619px;width:39px;height:64px;font-size:11px">بورس</div>
<div class="c R" style="left:1379px;top:619px;width:37px;height:33px;font-size:11px">تنوين</div>
<div class="c R" style="left:1379px;top:652px;width:20px;height:15px"></div>
<div class="c R" style="left:1399px;top:652px;width:17px;height:15px"></div>
<div class="c G" style="left:1379px;top:667px;width:17px;height:16px"></div>
<div class="c D" style="left:1396px;top:667px;width:10px;height:16px"></div>
<div class="c G" style="left:1406px;top:667px;width:10px;height:16px"></div>

<div class="h" style="left:1418px;top:390px;width:145px;height:20px;font-size:10px">...حمل ونقل، انبارداري و ارتبا [+]</div>
<div class="c X" style="left:1418px;top:410px;width:70px;height:67px;font-size:5px">حكشتي<br>-0.82%</div>
<div class="c G" style="left:1418px;top:477px;width:70px;height:61px;font-size:5px">حافرين<br>1.1%</div>
<div class="c R" style="left:1488px;top:410px;width:75px;height:39px;font-size:12px">توريل</div>
<div class="c R" style="left:1488px;top:449px;width:45px;height:44px;font-size:11px">حفارس</div>
<div class="c G" style="left:1533px;top:449px;width:30px;height:44px;font-size:10px">...ح</div>
<div class="c B" style="left:1488px;top:493px;width:38px;height:26px;font-size:10px">حيترو</div>
<div class="c G" style="left:1526px;top:493px;width:25px;height:26px"></div>
<div class="c X" style="left:1551px;top:493px;width:12px;height:26px"></div>
<div class="c R" style="left:1488px;top:519px;width:38px;height:19px"></div>
<div class="c R" style="left:1526px;top:519px;width:15px;height:19px"></div>
<div class="c D" style="left:1541px;top:519px;width:15px;height:19px"></div>
<div class="c R" style="left:1556px;top:519px;width:7px;height:19px"></div>

<div class="h" style="left:1418px;top:540px;width:145px;height:20px;font-size:10px">... رايانه و فعاليت‌هاي وابسته [+]</div>
<div class="c X" style="left:1418px;top:560px;width:58px;height:80px;font-size:5px">رانفور<br>0%</div>
<div class="c B" style="left:1418px;top:640px;width:58px;height:43px;font-size:11px">فن افزار</div>
<div class="c D" style="left:1476px;top:560px;width:47px;height:38px;font-size:11px">مفاخر</div>
<div class="c G" style="left:1523px;top:560px;width:40px;height:38px;font-size:10px">...سي</div>
<div class="c G" style="left:1476px;top:598px;width:37px;height:35px;font-size:10px">...س</div>
<div class="c B" style="left:1513px;top:598px;width:25px;height:35px"></div>
<div class="c G" style="left:1538px;top:598px;width:25px;height:35px"></div>
<div class="c R" style="left:1476px;top:633px;width:31px;height:28px;font-size:10px">آپ</div>
<div class="c R" style="left:1507px;top:633px;width:21px;height:28px"></div>
<div class="c X" style="left:1528px;top:633px;width:35px;height:23px"></div>
<div class="c R" style="left:1476px;top:661px;width:31px;height:22px;font-size:9px">...ا</div>
<div class="c R" style="left:1507px;top:661px;width:21px;height:22px"></div>
<div class="c D" style="left:1528px;top:656px;width:18px;height:27px"></div>
<div class="c R" style="left:1546px;top:656px;width:17px;height:27px"></div>

<div class="h" style="left:1565px;top:510px;width:73px;height:20px;font-size:10px">... اطلاعات [+]</div>
<div class="c X" style="left:1565px;top:530px;width:42px;height:63px;font-size:10px">... هاي</div>
<div class="c R" style="left:1607px;top:530px;width:31px;height:46px;font-size:10px">...ا</div>
<div class="c R" style="left:1607px;top:576px;width:24px;height:17px"></div>
<div class="c X" style="left:1631px;top:576px;width:7px;height:17px"></div>
<div class="h" style="left:1565px;top:596px;width:73px;height:19px;font-size:10px">... استخراج [+]</div>
<div class="c G" style="left:1565px;top:615px;width:73px;height:68px;font-size:4px">حفاري<br>1.97%</div>

<div class="h" style="left:1641px;top:490px;width:82px;height:20px">قند و شكر [+]</div>
<div class="c R" style="left:1641px;top:510px;width:32px;height:28px;font-size:10px">...قتا</div>
<div class="c R" style="left:1673px;top:510px;width:30px;height:21px;font-size:9px">...ق</div>
<div class="c R" style="left:1703px;top:510px;width:20px;height:21px"></div>
<div class="c R" style="left:1641px;top:538px;width:32px;height:20px"></div>
<div class="c R" style="left:1673px;top:531px;width:11px;height:27px"></div>
<div class="c D" style="left:1684px;top:531px;width:19px;height:13px"></div>
<div class="c X" style="left:1703px;top:531px;width:20px;height:13px"></div>
<div class="c R" style="left:1684px;top:544px;width:19px;height:14px"></div>
<div class="c X" style="left:1703px;top:544px;width:20px;height:14px"></div>
<div class="h" style="left:1641px;top:562px;width:82px;height:20px;font-size:10px">...هتل و رستو [+]</div>
<div class="c R" style="left:1641px;top:582px;width:40px;height:43px;font-size:11px">گدنا</div>
<div class="c X" style="left:1681px;top:582px;width:30px;height:43px"></div>
<div class="c G" style="left:1711px;top:582px;width:12px;height:27px"></div>
<div class="c R" style="left:1711px;top:609px;width:12px;height:16px"></div>
<div class="h" style="left:1641px;top:627px;width:82px;height:20px">مخابرات [+]</div>
<div class="c X" style="left:1641px;top:647px;width:55px;height:36px;font-size:11px">اخابر</div>
<div class="c D" style="left:1696px;top:647px;width:27px;height:36px;font-size:9px">...ه</div>

<div class="h" style="left:1725px;top:489px;width:81px;height:20px">منسوجات [+]</div>
<div class="c R" style="left:1725px;top:509px;width:50px;height:36px;font-size:11px">نخريس</div>
<div class="c G" style="left:1775px;top:509px;width:31px;height:34px;font-size:10px">...ن</div>
<div class="c B" style="left:1775px;top:543px;width:31px;height:4px"></div>
<div class="h" style="left:1808px;top:489px;width:76px;height:20px;font-size:10px">...محصولات [+]</div>
<div class="c R" style="left:1808px;top:509px;width:35px;height:38px;font-size:11px">چكايا</div>
<div class="c G" style="left:1843px;top:509px;width:26px;height:31px;font-size:10px">...ج</div>
<div class="c G" style="left:1843px;top:540px;width:26px;height:7px"></div>
<div class="c R" style="left:1869px;top:509px;width:15px;height:29px"></div>
<div class="c G" style="left:1869px;top:538px;width:15px;height:9px"></div>

<div class="h" style="left:1725px;top:549px;width:57px;height:21px;font-size:10px">...خدما [+]</div>
<div class="c R" style="left:1725px;top:570px;width:36px;height:50px;font-size:11px">رمينا</div>
<div class="c G" style="left:1761px;top:570px;width:21px;height:50px"></div>
<div class="h" style="left:1783px;top:549px;width:56px;height:21px;font-size:10px">...استغ [+]</div>
<div class="c G" style="left:1783px;top:570px;width:42px;height:37px;font-size:11px">كزغال</div>
<div class="c G" style="left:1825px;top:570px;width:14px;height:25px"></div>
<div class="c R" style="left:1825px;top:595px;width:7px;height:12px"></div>
<div class="c R" style="left:1832px;top:595px;width:7px;height:12px"></div>
<div class="h" style="left:1841px;top:549px;width:43px;height:21px;font-size:10px">...تو [+]</div>
<div class="c R" style="left:1841px;top:570px;width:28px;height:37px;font-size:10px">...ن</div>
<div class="c R" style="left:1869px;top:570px;width:15px;height:37px"></div>
<div class="h" style="left:1725px;top:622px;width:57px;height:20px;font-size:10px">...استغ [+]</div>
<div class="c G" style="left:1725px;top:642px;width:52px;height:41px;font-size:11px">كماسه</div>
<div class="c D" style="left:1777px;top:642px;width:5px;height:41px"></div>
<div class="h" style="left:1783px;top:610px;width:53px;height:20px;font-size:10px">...حم [+]</div>
<div class="c G" style="left:1783px;top:630px;width:53px;height:25px;font-size:10px">حخزر</div>
<div class="h" style="left:1783px;top:658px;width:53px;height:20px;font-size:10px">...دباغ [+]</div>
<div class="c G" style="left:1783px;top:678px;width:53px;height:5px"></div>
<div class="h" style="left:1837px;top:610px;width:47px;height:20px;font-size:10px">...خر [+]</div>
<div class="c R" style="left:1837px;top:630px;width:24px;height:7px"></div>
<div class="c R" style="left:1861px;top:630px;width:23px;height:7px"></div>
<div class="h" style="left:1837px;top:638px;width:32px;height:22px;font-size:10px">...[+]</div>
<div class="h" style="left:1837px;top:660px;width:32px;height:23px;font-size:10px">...[+]</div>
<div class="c G" style="left:1869px;top:658px;width:15px;height:6px"></div>
</body></html>
